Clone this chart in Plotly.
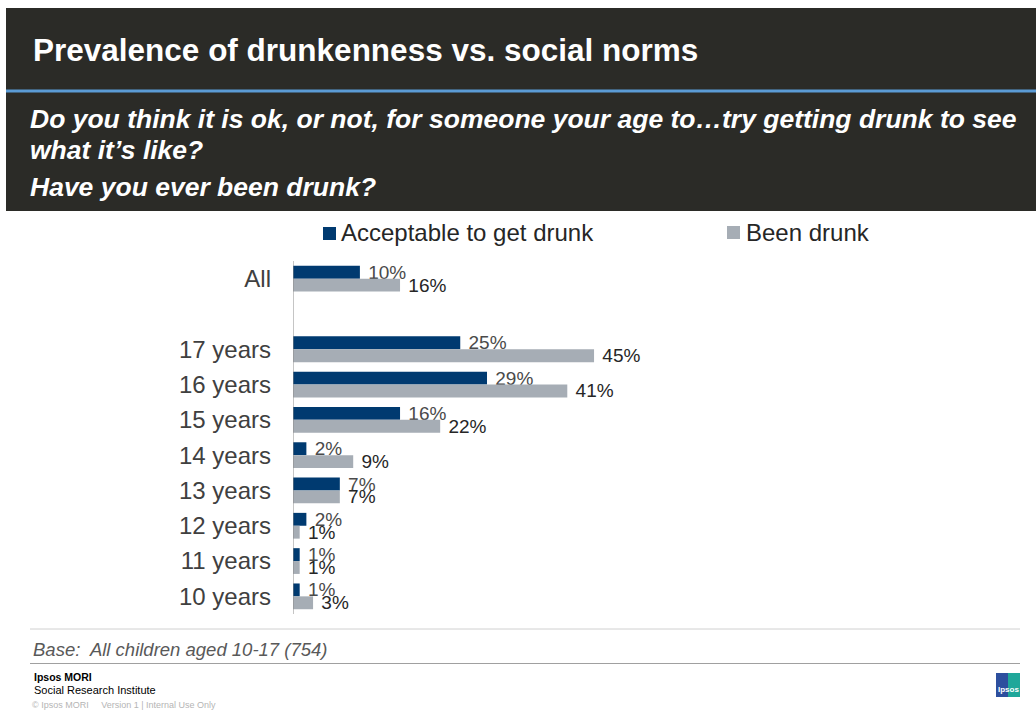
import plotly.graph_objects as go

# Survey results (% of children)
categories = ["All", " ", "17 years", "16 years", "15 years", "14 years",
              "13 years", "12 years", "11 years", "10 years"]
acceptable = [10, None, 25, 29, 16, 2, 7, 2, 1, 1]
been_drunk = [16, None, 45, 41, 22, 9, 7, 1, 1, 3]

series_names = ["Acceptable to get drunk", "Been drunk"]
series_colors = ["#003a70", "#a6adb5"]
label_colors = ["#4a4a4a", "#262626"]

W, H = 1036, 711
ML, MR, MT, MB = 293, 16, 261, 97
PW, PH = W - ML - MR, H - MT - MB


def px(x):
    return (x - ML) / PW


def py(y):
    return (H - MB - y) / PH


def pct(vals):
    return ["" if v is None else f" {v}%" for v in vals]


fig = go.Figure()
for name, vals, col, lcol in zip(series_names, [acceptable, been_drunk],
                                 series_colors, label_colors):
    fig.add_trace(go.Bar(
        y=categories, x=vals, name=name, orientation="h",
        marker=dict(color=col, line=dict(width=0)),
        text=pct(vals), textposition="outside", constraintext="none",
        cliponaxis=False,
        textfont=dict(family="Liberation Sans, Arial, sans-serif", size=19, color=lcol),
        hoverinfo="skip",
    ))

shapes = [
    # header block
    dict(type="rect", xref="paper", yref="paper", x0=px(6), x1=px(1040),
         y0=py(211), y1=py(8), fillcolor="#2b2b27", line=dict(width=0), layer="below"),
    dict(type="line", xref="paper", yref="paper", x0=px(6), x1=px(1040),
         y0=py(91), y1=py(91), line=dict(color="#5b9bd5", width=3)),
    # legend swatches
    dict(type="rect", xref="paper", yref="paper", x0=px(323), x1=px(336),
         y0=py(240), y1=py(227), fillcolor=series_colors[0], line=dict(width=0)),
    dict(type="rect", xref="paper", yref="paper", x0=px(727), x1=px(740),
         y0=py(239), y1=py(226), fillcolor=series_colors[1], line=dict(width=0)),
    # footer rules
    dict(type="line", xref="paper", yref="paper", x0=px(30), x1=px(1020),
         y0=py(629), y1=py(629), line=dict(color="#d0d0d0", width=1)),
    dict(type="line", xref="paper", yref="paper", x0=px(30), x1=px(1020),
         y0=py(663.5), y1=py(663.5), line=dict(color="#a0a0a0", width=1)),
    # logo
    dict(type="rect", xref="paper", yref="paper", x0=px(996), x1=px(1020),
         y0=py(697), y1=py(673), fillcolor="#2d4f9e", line=dict(width=0)),
    dict(type="rect", xref="paper", yref="paper", x0=px(1008), x1=px(1020),
         y0=py(697), y1=py(673), fillcolor="#1fa79a", line=dict(width=0)),
]

font = "Liberation Sans, Arial, sans-serif"
annotations = [
    dict(text="<b>Prevalence of drunkenness vs. social norms</b>", x=px(31), y=py(50),
         font=dict(family=font, size=31.5, color="white")),
    dict(text="<b><i>Do you think it is ok, or not, for someone your age to…try getting drunk to see</i></b>",
         x=px(28), y=py(119), font=dict(family=font, size=26.5, color="white")),
    dict(text="<b><i>what it’s like?</i></b>", x=px(28), y=py(150),
         font=dict(family=font, size=26.5, color="white")),
    dict(text="<b><i>Have you ever been drunk?</i></b>", x=px(28), y=py(187),
         font=dict(family=font, size=26.5, color="white")),
    dict(text=series_names[0], x=px(339), y=py(233),
         font=dict(family=font, size=24, color="#262626")),
    dict(text=series_names[1], x=px(744), y=py(233),
         font=dict(family=font, size=24, color="#262626")),
    dict(text="<i>Base:  All children aged 10-17 (754)</i>", x=px(31), y=py(649),
         font=dict(family=font, size=18.5, color="#595959")),
    dict(text="<b>Ipsos MORI</b>", x=px(32), y=py(677),
         font=dict(family=font, size=10.5, color="#000000")),
    dict(text="Social Research Institute", x=px(32), y=py(690),
         font=dict(family=font, size=11, color="#000000")),
    dict(text="© Ipsos MORI     Version 1 | Internal Use Only", x=px(30), y=py(705),
         font=dict(family=font, size=9, color="#b5b5b5")),
    dict(text="<b>Ipsos</b>", x=px(1008), y=py(689), xanchor="center",
         font=dict(family=font, size=8, color="white")),
]
for a in annotations:
    a.setdefault("xanchor", "left")
    a.update(xref="paper", yref="paper", yanchor="middle", showarrow=False)

fig.update_layout(
    width=W, height=H,
    margin=dict(l=ML, r=MR, t=MT, b=MB, pad=0),
    paper_bgcolor="white", plot_bgcolor="white",
    barmode="group", bargap=0.27, bargroupgap=0,
    showlegend=False,
    shapes=shapes, annotations=annotations,
    xaxis=dict(range=[0, PW / 6.69], visible=False, fixedrange=True),
    yaxis=dict(
        type="category", categoryorder="array", categoryarray=categories,
        autorange="reversed", showgrid=False, zeroline=False,
        showline=False, ticks="", ticklabelstandoff=21,
        tickfont=dict(family=font, size=24, color="#404040"),
        fixedrange=True,
    ),
    font=dict(family=font),
)
# vertical axis line at zero
fig.add_shape(type="line", xref="x", yref="paper", x0=0, x1=0, y0=0, y1=1,
              line=dict(color="#8c8c8c", width=1))

fig.write_html("out.html")
